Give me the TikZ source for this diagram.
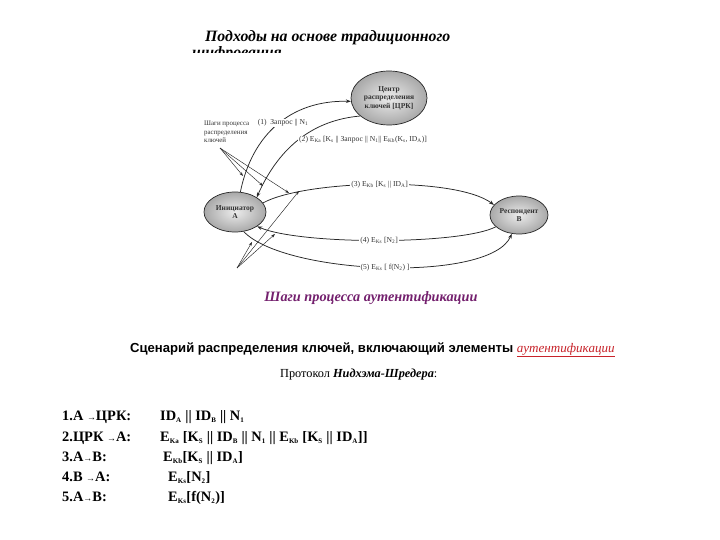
\documentclass[tikz,border=0pt]{standalone}
\usepackage{fontspec}
\setmainfont{Liberation Serif}
\newfontfamily\sansf{Liberation Sans}
\usetikzlibrary{shapes.geometric,arrows.meta}
\newcommand{\sbs}[1]{\textsubscript{#1}}
\newcommand{\lsb}[1]{\textsubscript{\fontsize{7}{7}\selectfont #1}}
\definecolor{purp}{HTML}{74206E}
\definecolor{redl}{HTML}{C8242B}
\begin{document}
\begin{tikzpicture}[x=1pt,y=-1pt,
  ell/.style={ellipse, draw=black!85, line width=0.7pt, inner sep=0pt, align=center,
    inner color=gray!15, outer color=gray!68, font=\fontsize{7.5}{8.5}\selectfont\bfseries, text=black!80},
  conn/.style={draw=black!85, line width=0.75pt, -{Stealth[length=5pt,width=3.5pt]}},
  thin/.style={draw=black!85, line width=0.45pt, -{Stealth[length=4pt,width=2.8pt]}},
  elab/.style={font=\fontsize{7.6}{8}\selectfont, text=black!80, inner sep=1pt},
  title/.style={font=\fontsize{15.8}{18}\selectfont\bfseries\itshape},
  proto/.style={anchor=base west, font=\fontsize{14.4}{16}\selectfont\bfseries, inner sep=0pt}
]
\useasboundingbox (0,0) rectangle (720,540);
\fill[white] (0,0) rectangle (720,540);

% title (second line clipped by the picture)
\node[title, anchor=base west, inner sep=0pt] (t1) at (205,42) {Подходы на основе традиционного};
\node[title, anchor=base west, inner sep=0pt] (t2) at (192,58) {шифрования};
\fill[white] (185,53) rectangle (560,285);

% ellipses
\node[ell, minimum width=76pt, minimum height=54pt] (crk) at (389,98) {Центр\\распределения\\ключей [ЦРК]};
\node[ell, minimum width=62pt, minimum height=40pt] (A) at (235,212) {Инициатор\\А};
\node[ell, minimum width=58pt, minimum height=38pt] (B) at (519,215) {Респондент\\В};

% connectors
\draw[conn] (A.75) .. controls (252,135) and (290,100) .. (crk.185);
\node[elab, fill=white] (l1) at (283,123) {(1)\enspace Запрос || N\sbs{1}};
\draw[conn] (crk.212) .. controls (315,120) and (280,145) .. (A.34);
\node[elab, fill=white] (l2) at (363,140) {(2) E\sbs{Ka} [K\sbs{s} || Запрос || N\sbs{1}|| E\sbs{Kb}(K\sbs{s}, ID\sbs{A})]};
\draw[conn] (A.18) .. controls (305,180) and (455,176) .. node[elab, fill=white, pos=0.5] (l3) {(3) E\sbs{Kb} [K\sbs{s} || ID\sbs{A}]} (B.158);
\draw[conn] (B.207) .. controls (460,245) and (300,245) .. node[elab, fill=white, pos=0.5] (l4) {(4) E\sbs{Ks} [N\sbs{2}]} (A.327);
\draw[conn] (A.294) .. controls (285,275) and (490,283) .. node[elab, fill=white, pos=0.5] (l5) {(5) E\sbs{Ks} [ f(N\sbs{2}) ]} (B.249);

% step annotations
\node[elab, anchor=north west, align=left, font=\fontsize{6.9}{8.5}\selectfont] (steps) at (203,120) {Шаги процесса\\распределения\\ключей};
\coordinate (s0) at (220,148);
\coordinate (s1) at (243,176);
\coordinate (s2) at (263,186);
\coordinate (s3) at (289,193);
\draw[thin] (s0) -- (s1);
\draw[thin] (s0) -- (s2);
\draw[thin] (s0) -- (s3);
\coordinate (b0) at (237,268);
\coordinate (b1) at (252,242);
\coordinate (b2) at (275,234);
\coordinate (b3) at (299,191);
\draw[thin] (b0) -- (b1);
\draw[thin] (b0) -- (b2);
\draw[thin] (b0) -- (b3);

% captions
\node[font=\fontsize{14.3}{16}\selectfont\bfseries\itshape, text=purp] (cap) at (371,298) {Шаги процесса аутентификации};
\node[font=\fontsize{13.1}{15}\selectfont, anchor=base west, inner sep=0pt] (head) at (130,352)
  {{\sansf\bfseries Сценарий распределения ключей, включающий элементы }{\itshape\color{redl}\underline{аутентификации}}};
\node[font=\fontsize{12.3}{15}\selectfont, anchor=base west, inner sep=0pt] (prot) at (280,377)
  {Протокол {\bfseries\itshape Нидхэма-Шредера}:};

% protocol
\node[proto] (p1a) at (62,420) {1.A {\fontsize{9}{9}\selectfont→}ЦРК:};
\node[proto] (p1b) at (160,420) {ID\lsb{A} || ID\lsb{B} || N\lsb{1}};
\node[proto] (p2a) at (62,441) {2.ЦРК {\fontsize{9}{9}\selectfont→}A:};
\node[proto] (p2b) at (160,441) {E\lsb{Ka} [K\lsb{S} || ID\lsb{B} || N\lsb{1} || E\lsb{Kb} [K\lsb{S} || ID\lsb{A}]]};
\node[proto] (p3a) at (62,461) {3.A{\fontsize{9}{9}\selectfont→}B:};
\node[proto] (p3b) at (163,461) {E\lsb{Kb}[K\lsb{S} || ID\lsb{A}]};
\node[proto] (p4a) at (62,481) {4.B {\fontsize{9}{9}\selectfont→}A:};
\node[proto] (p4b) at (168,481) {E\lsb{Ks}[N\lsb{2}]};
\node[proto] (p5a) at (62,501) {5.A{\fontsize{9}{9}\selectfont→}B:};
\node[proto] (p5b) at (168,501) {E\lsb{Ks}[f(N\lsb{2})]};
\end{tikzpicture}
\end{document}
